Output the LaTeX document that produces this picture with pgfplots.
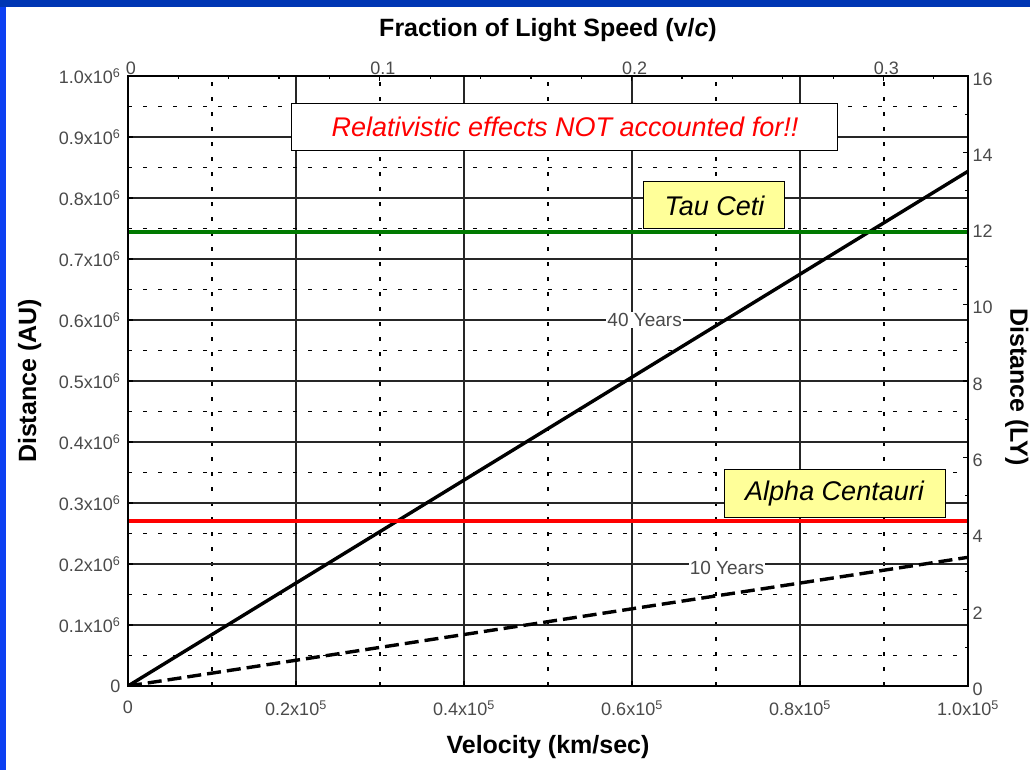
\documentclass[border=0pt]{standalone}
\usepackage{fontspec}
\setmainfont{Liberation Sans}
\usepackage{pgfplots}
\pgfplotsset{compat=1.18}

\definecolor{frametop}{HTML}{0036B4}
\definecolor{frameleft}{HTML}{0C40F2}
\definecolor{ticktext}{HTML}{4A4A4A}
\definecolor{noteyellow}{HTML}{FFFF99}
\definecolor{taugreen}{HTML}{007A00}

\newcommand{\tickfont}{\fontsize{18}{20}\selectfont}
\newcommand{\titlefont}{\fontsize{25}{28}\selectfont\bfseries}
\newcommand{\notefont}{\fontsize{27}{30}\selectfont\itshape}

\begin{document}
\begin{tikzpicture}
\fill[white] (0pt,0pt) rectangle (1030pt,770pt);
\fill[frameleft] (0pt,0pt) rectangle (6pt,770pt);
\fill[frametop] (0pt,763pt) rectangle (1030pt,770pt);

% velocity (km/s) against distance (AU)
\begin{axis}[
    at={(128pt,84pt)}, anchor=south west,
    width=840pt, height=610pt, scale only axis,
    xmin=0, xmax=100000,
    ymin=0, ymax=1000000,
    xtick={0,20000,40000,60000,80000,100000},
    xticklabels={0,0.2x10\textsuperscript{5},0.4x10\textsuperscript{5},0.6x10\textsuperscript{5},0.8x10\textsuperscript{5},1.0x10\textsuperscript{5}},
    minor xtick={10000,30000,50000,70000,90000},
    ytick={0,100000,200000,300000,400000,500000,600000,700000,800000,900000,1000000},
    yticklabels={0,0.1x10\textsuperscript{6},0.2x10\textsuperscript{6},0.3x10\textsuperscript{6},0.4x10\textsuperscript{6},0.5x10\textsuperscript{6},0.6x10\textsuperscript{6},0.7x10\textsuperscript{6},0.8x10\textsuperscript{6},0.9x10\textsuperscript{6},1.0x10\textsuperscript{6}},
    minor ytick={50000,150000,250000,350000,450000,550000,650000,750000,850000,950000},
    scaled ticks=false,
    xtick pos=left, ytick pos=left,
    tick align=inside,
    major tick length=5pt, minor tick length=3pt,
    tick style={black, line width=1.2pt},
    ticklabel style={font=\tickfont, text=ticktext},
    xticklabel style={yshift=-11pt},
    yticklabel style={xshift=-4pt},
    grid=both,
    major grid style={black!85, line width=1.5pt},
    minor grid style={black, line width=1.2pt, dash pattern=on 4pt off 11pt},
    axis line style={black, line width=2.4pt},
    xlabel={Velocity (km/sec)},
    ylabel={Distance (AU)},
    label style={font=\titlefont},
    xlabel style={at={(axis description cs:0.5,-0.1)}, anchor=center},
    ylabel style={at={(axis description cs:-0.117,0.5)}, anchor=center},
]
\addplot[black, line width=3.4pt] coordinates {(0,0) (100000,843800)};
\addplot[black, line width=3.4pt, dash pattern=on 14pt off 6pt] coordinates {(0,0) (100000,210950)};
\addplot[taugreen, line width=4pt] coordinates {(0,745000) (100000,745000)};
\addplot[red, line width=4pt] coordinates {(0,271000) (100000,271000)};

\node[fill=white, inner sep=1pt, text=ticktext, font=\fontsize{19}{21}\selectfont] at (axis cs:61500,600000) {40 Years};
\node[fill=white, inner sep=1pt, text=ticktext, font=\fontsize{19}{21}\selectfont] at (axis cs:71300,194000) {10 Years};

\node[draw=black, fill=white, line width=1pt, minimum width=546pt, minimum height=47pt,
      text=red, font=\notefont] at (axis cs:52020,917000)
      {Relativistic effects NOT accounted for!!};
\node[draw=black, fill=noteyellow, line width=1pt, minimum width=141pt, minimum height=47pt,
      font=\notefont] at (axis cs:69820,787700) {Tau Ceti};
\node[draw=black, fill=noteyellow, line width=1pt, minimum width=221pt, minimum height=48pt,
      font=\notefont] at (axis cs:84110,314800) {Alpha Centauri};
\end{axis}

% fraction of light speed against distance (LY)
\begin{axis}[
    at={(128pt,84pt)}, anchor=south west,
    width=840pt, height=610pt, scale only axis,
    xmin=0, xmax=0.333564,
    ymin=0, ymax=16,
    xtick={0,0.1,0.2,0.3},
    xticklabels={0,0.1,0.2,0.3},
    minor xtick={0.02,0.04,0.06,0.08,0.12,0.14,0.16,0.18,0.22,0.24,0.26,0.28,0.32},
    ytick={0,2,4,6,8,10,12,14,16},
    yticklabels={0,2,4,6,8,10,12,14,16},
    minor ytick={1,3,5,7,9,11,13,15},
    xtick pos=right, ytick pos=right,
    xticklabel pos=right, yticklabel pos=right,
    tick align=inside,
    major tick length=5pt, minor tick length=3pt,
    tick style={black, line width=1.2pt},
    ticklabel style={font=\tickfont, text=ticktext},
    xticklabel style={xshift=3pt, yshift=-2pt},
    yticklabel style={xshift=1pt, yshift=-3pt},
    axis line style={black, line width=2.4pt},
    xlabel={Fraction of Light Speed (v/\textit{c})},
    ylabel={Distance (LY)},
    label style={font=\titlefont},
    xlabel style={at={(axis description cs:0.5,1.076)}, anchor=center},
    ylabel style={at={(axis description cs:1.058,0.49)}, anchor=center, rotate=180},
]
\end{axis}
\pgfresetboundingbox
\useasboundingbox (0pt,0pt) rectangle (1030pt,770pt);
\end{tikzpicture}
\end{document}
